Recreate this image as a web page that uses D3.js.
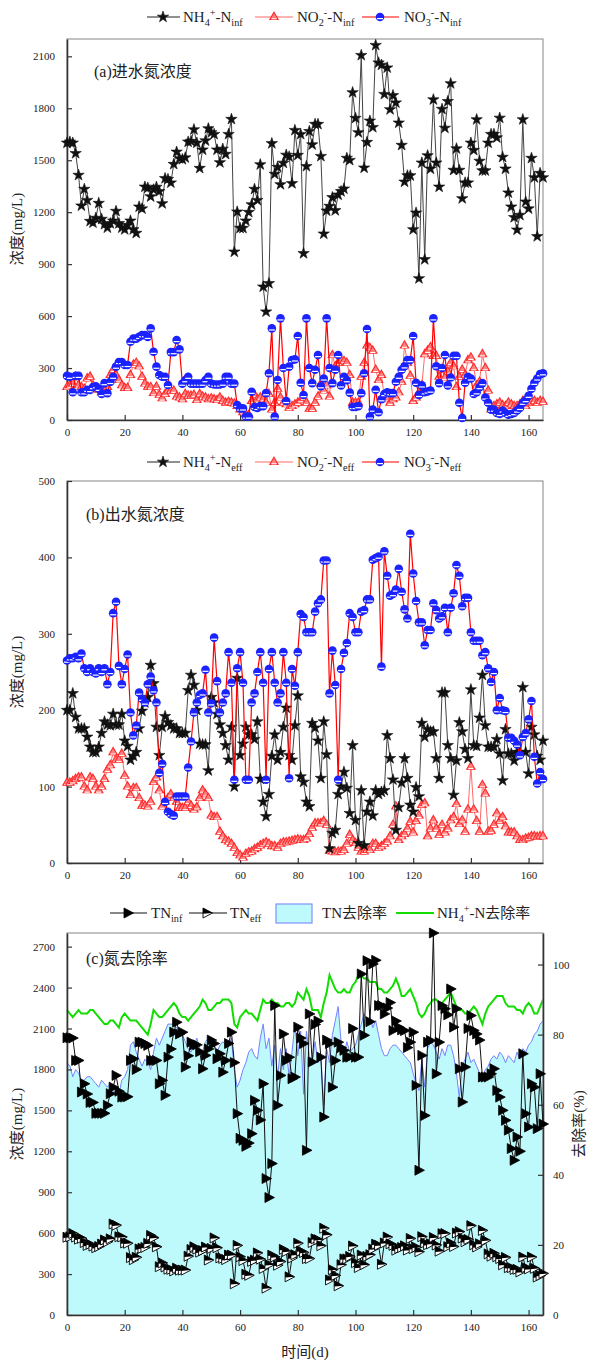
<!DOCTYPE html>
<html><head><meta charset="utf-8">
<script src="https://cdn.jsdelivr.net/npm/d3@7"></script>
<style>
body{margin:0;background:#fff}
svg{display:block}
text{font-family:"Liberation Serif","Times New Roman","Noto Sans CJK SC",serif;fill:#222}
</style></head><body>
<svg id="c" width="592" height="1362"></svg>
<script>
// ---------- data (day index 0..165) ----------
const xTicks = [0,20,40,60,80,100,120,140,160];
const yTicksA = [0,300,600,900,1200,1500,1800,2100];
const yTicksB = [0,100,200,300,400,500];
const yTicksC = [0,300,600,900,1200,1500,1800,2100,2400,2700];
const yTicksR = [0,20,40,60,80,100];

const nh4Inf = [1600,1606,1600,1540,1414,1237,1333,1269,1148,1139,
1166,1252,1160,1130,1110,1135,1150,1206,1135,1110,
1100,1125,1150,1100,1079,1231,1220,1346,1340,1290,
1330,1345,1320,1250,1395,1390,1370,1477,1548,1510,
1505,1515,1606,1610,1677,1600,1454,1560,1613,1683,
1660,1650,1560,1487,1565,1535,1650,1737,971,1202,
1108,1108,1150,1200,1244,1333,1269,1475,769,625,
789,1597,1420,1460,1360,1484,1530,1520,1366,1673,
1529,1650,962,1465,1667,1590,1708,1708,1523,1075,
1208,1235,1285,1210,1300,1320,1335,1512,1500,1891,
1743,1660,2106,1456,1604,1727,1690,2164,2063,2050,
1881,2034,1793,1874,1832,1716,1587,1375,1411,1411,
1100,1196,817,1485,927,1527,1450,1850,1485,1346,
1795,1686,1840,1943,1443,1567,1443,1279,1370,1370,
1600,1558,1735,1495,1440,1440,1600,1650,1650,1630,
1744,1518,1450,1312,1231,1170,1098,1183,1735,1260,
1220,1512,1400,1060,1425,1400];

const no2Inf = [190,200,210,250,200,190,180,240,250,200,
180,175,160,150,190,260,290,260,230,200,
185,185,260,320,330,310,250,210,192,190,
155,192,145,125,150,170,170,170,135,130,
120,150,140,140,145,115,150,135,130,120,
125,120,115,130,110,100,105,100,95,80,
60,45,35,30,110,145,120,130,120,100,
150,60,100,180,130,100,90,70,80,90,
100,115,130,100,65,65,100,135,210,170,
200,135,375,310,330,345,340,330,260,100,
100,100,250,330,430,415,400,290,230,260,
130,120,100,120,130,160,220,430,330,255,
110,130,160,200,380,400,420,370,370,250,
290,245,280,330,310,190,250,290,260,345,
360,300,200,220,380,300,170,60,80,90,
100,85,80,100,90,80,80,90,110,80,
100,105,110,100,110,105];

const no3Inf = [255,250,160,255,255,160,160,175,173,190,
195,180,150,213,155,220,250,308,335,335,
318,318,452,470,470,480,490,490,480,529,
394,308,260,250,250,202,392,392,462,408,
210,230,250,210,210,210,210,210,230,250,
210,205,205,205,210,250,250,210,210,87,
67,67,20,20,163,75,70,80,80,155,
270,529,20,231,587,300,110,308,346,350,
485,215,144,587,300,213,290,375,195,240,
587,300,213,290,375,200,250,230,158,75,
75,80,155,270,525,20,60,175,45,120,
150,160,155,155,221,250,290,310,346,346,
485,215,145,200,160,165,170,587,310,213,
300,375,200,245,370,370,100,12,215,250,
240,150,160,190,213,130,100,60,60,40,
35,55,40,30,35,40,55,70,100,115,
140,180,215,240,265,270];

const nh4Eff = [200,200,222,191,176,176,176,165,152,145,
145,152,170,185,181,180,195,181,181,195,
160,153,135,140,145,176,199,210,217,259,
235,178,141,178,192,184,180,176,176,170,
170,170,226,246,233,200,156,155,155,121,
217,210,195,181,170,154,135,178,100,242,
141,156,178,168,168,162,185,110,80,61,
90,140,168,135,145,178,203,141,135,180,
219,113,106,80,74,183,177,160,111,185,
142,19,39,43,90,100,119,98,65,154,
56,26,95,23,67,80,62,95,90,93,
95,167,137,109,43,73,105,137,111,76,
67,99,87,183,165,175,172,172,137,111,
223,223,154,137,89,134,184,172,149,137,
227,154,153,190,246,180,152,152,152,162,
143,108,175,143,143,134,145,145,230,145,
117,178,168,140,135,160];

const no2Eff = [105,105,107,110,112,112,100,95,112,110,
100,95,100,110,122,128,145,135,135,143,
114,100,89,98,98,85,75,75,74,80,
106,112,95,74,80,85,90,85,80,72,
72,72,80,75,70,73,85,95,90,85,
62,60,60,41,35,30,28,25,20,13,
10,7,12,14,15,18,20,23,25,27,
25,22,22,20,25,27,27,28,29,30,
31,30,30,32,38,46,52,52,52,55,
50,16,15,14,15,15,17,25,37,30,
26,20,15,15,17,17,25,25,20,22,
25,28,35,50,74,30,35,38,45,54,
40,55,62,76,78,35,45,56,45,37,
50,40,45,56,60,77,51,56,41,70,
126,70,55,41,102,91,41,42,50,65,
55,60,48,40,40,40,35,30,30,32,
33,35,35,34,35,35];

const no3Eff = [265,268,268,270,268,274,255,250,255,250,
248,255,250,255,234,250,327,342,258,234,
254,273,197,167,180,223,215,210,234,244,
226,210,118,130,80,67,64,62,87,87,
87,87,125,159,197,210,220,222,253,197,
209,295,238,197,210,222,276,236,109,255,
276,236,109,109,210,222,250,276,236,109,
254,276,236,210,222,276,236,111,254,232,
276,326,322,302,302,302,329,340,345,396,
396,222,278,233,109,254,275,288,327,322,
302,302,329,331,345,345,397,399,401,257,
408,376,350,352,358,385,355,332,320,431,
379,343,315,315,285,305,305,340,331,320,
323,334,302,334,353,390,376,336,347,347,
302,291,291,291,272,276,255,237,250,200,
216,200,199,164,164,160,155,141,165,170,
188,212,139,104,119,110];

const tnInf = [2032,2032,2030,1866,1866,1634,1695,1620,1558,1558,
1478,1478,1478,1478,1537,1622,1670,1756,1640,1597,
1597,1600,1866,1878,1800,2000,2000,1990,1976,1866,
1866,1866,1695,1720,1610,1890,1950,2073,2146,2060,
2073,1817,1900,2000,1980,1980,1930,1805,1903,1950,
2015,1990,1878,1915,1780,1866,1990,2073,1850,1476,
1295,1280,1236,1260,1329,1573,1500,1430,1695,1000,
861,1110,2268,1537,1756,2060,1866,1890,1732,1744,
2110,2030,1990,1207,2207,1855,2130,2155,1890,1451,
2015,1990,1670,1866,2000,1960,1940,1890,1890,2100,
1890,1890,2500,2050,2597,2150,2573,2600,2268,2268,
2207,2250,2290,2085,2155,2110,2090,2085,1960,2000,
2073,1683,1061,1903,1462,2000,2012,2800,1768,2000,
2268,2245,2200,2390,2110,2245,1805,1561,1817,2100,
2195,2085,2060,2015,1744,1744,1744,1768,1805,1646,
1597,1500,1427,1355,1220,1134,1305,1200,1915,1476,
1378,1695,1670,1366,1768,1400];

const tnEff = [570,573,597,571,556,562,531,510,519,505,
493,502,520,550,537,558,667,658,574,572,
528,526,421,405,423,484,489,495,525,583,
567,500,354,382,352,336,334,323,343,329,
329,329,431,480,500,483,461,472,498,403,
488,565,493,419,415,406,439,439,229,510,
427,399,299,291,393,402,455,409,341,197,
369,438,426,365,392,481,466,280,418,442,
526,469,458,414,414,531,558,552,508,636,
588,257,332,290,214,369,411,411,429,506,
384,348,439,369,429,442,484,519,511,372,
528,571,522,511,475,488,495,507,476,561,
486,497,464,574,528,515,522,568,513,468,
596,597,501,527,502,601,611,564,537,554,
655,515,499,522,620,547,448,431,452,427,
414,368,422,347,347,334,335,316,425,347,
338,425,342,278,289,305];

const tnRemoval = [72,71,68,70,69,67,67,68,68,67,
66,65,67,66,65,66,64,63,63,67,
68,70,77,78,75,73,71,73,72,70,
75,79,77,79,81,83,83,83,82,81,
80,78,76,75,77,79,76,75,78,79,
78,77,75,77,78,77,77,79,70,65,
67,70,72,75,76,74,73,79,83,76,
79,71,77,68,76,70,76,68,75,83,
74,81,63,81,74,72,78,72,74,60,
76,72,80,84,88,78,74,78,75,76,
77,80,83,86,84,85,82,84,80,76,
74,74,76,77,77,76,75,74,73,72,
69,66,64,73,65,76,78,77,75,73,
76,74,77,77,74,69,62,71,73,75,
72,73,71,69,68,70,71,73,74,73,
75,74,72,74,73,72,75,73,76,75,
77,78,80,81,83,84];

const nh4Removal = [87,86,85,86,87,86,86,86,87,87,
86,85,84,83,83,84,84,83,82,85,
86,85,84,84,84,83,82,81,80,83,
87,86,85,85,86,87,88,89,88,86,
85,85,84,85,86,87,88,90,89,87,
87,88,89,89,90,90,90,89,83,82,
85,86,87,86,86,85,84,87,90,89,
89,90,89,89,88,88,89,89,88,89,
92,91,90,93,91,87,87,87,85,89,
92,97,95,93,92,92,93,92,92,94,
95,97,97,96,96,95,95,95,93,93,
92,92,93,94,96,94,91,91,92,93,
91,89,86,85,86,88,89,90,90,89,
89,90,91,92,90,88,87,87,86,86,
87,88,87,85,83,86,88,89,90,91,
91,91,89,88,88,88,87,87,86,88,
89,88,86,86,88,90];

// ---------- drawing ----------
const svg = d3.select("#c");
const L = 67, R = 543;
const x = d3.scaleLinear().domain([0,165]).range([L,R]);

function styleAxis(g){
  g.selectAll(".domain").attr("stroke","#333").attr("stroke-width",1.6);
  g.selectAll(".tick line").attr("stroke","#333").attr("stroke-width",1.2);
  g.selectAll(".tick text").attr("font-family","Liberation Serif, serif").attr("font-size",11).attr("fill","#333");
}

function frame(y, ticks, top, bottom){
  svg.append("rect").attr("x",L).attr("y",top).attr("width",R-L).attr("height",bottom-top)
    .attr("fill","none").attr("stroke","#999").attr("stroke-width",1.2);
  const gl = svg.append("g").attr("transform",`translate(${L},0)`)
    .call(d3.axisLeft(y).tickValues(ticks).tickSizeInner(-5).tickSizeOuter(0).tickPadding(12).tickFormat(d3.format("d")));
  styleAxis(gl);
  const gb = svg.append("g").attr("transform",`translate(0,${bottom})`)
    .call(d3.axisBottom(x).tickValues(xTicks).tickSizeInner(-5).tickSizeOuter(0).tickPadding(8));
  styleAxis(gb);
}

function line(y, data, color, w){
  svg.append("path").datum(data)
    .attr("fill","none").attr("stroke",color).attr("stroke-width",w)
    .attr("d", d3.line().x((d,i)=>x(i)).y(d=>y(d)));
}

const starPath = d3.symbol(d3.symbolStar, 40)();
const triPath = d3.symbol(d3.symbolTriangle, 30)();
function star(g,cx,cy){
  g.append("path").attr("d",starPath).attr("transform",`translate(${cx},${cy})`)
    .attr("fill","#111").attr("stroke","#111").attr("stroke-width",0.6);
}
function tri(g,cx,cy){
  g.append("path").attr("d",triPath).attr("transform",`translate(${cx},${cy})`)
    .attr("fill","#ff8080").attr("stroke","#ff2a2a").attr("stroke-width",1.1);
  g.append("line").attr("x1",cx-2.6).attr("x2",cx+2.6).attr("y1",cy+1.8).attr("y2",cy+1.8)
    .attr("stroke","#fff").attr("stroke-width",1.1);
}
function blueDot(g,cx,cy){
  g.append("circle").attr("cx",cx).attr("cy",cy).attr("r",4.3).attr("fill","#1a22ff");
  g.append("line").attr("x1",cx-3).attr("x2",cx+3).attr("y1",cy+1.6).attr("y2",cy+1.6)
    .attr("stroke","#fff").attr("stroke-width",1.2);
}
function rtriFull(g,cx,cy){
  g.append("path").attr("d","M-4,-5L5.5,0L-4,5Z").attr("transform",`translate(${cx},${cy})`)
    .attr("fill","#000").attr("stroke","#000").attr("stroke-width",0.8);
}
function rtriHalf(g,cx,cy){
  const t = g.append("g").attr("transform",`translate(${cx},${cy})`);
  t.append("path").attr("d","M-4,-5L5.5,0L-4,5Z").attr("fill","#fff").attr("stroke","#000").attr("stroke-width",0.9);
  t.append("path").attr("d","M-4,-5L5.5,0L-4,0.8Z").attr("fill","#000");
}
function markers(y, data, fn){
  const g = svg.append("g");
  data.forEach((d,i)=>fn(g, x(i), y(d)));
}

// rich legend text: parts [text, mode] mode: 0 normal, 1 sub, 2 sup
function rich(xp, yp, parts, size){
  const t = svg.append("text").attr("x",xp).attr("y",yp).attr("font-size",size).attr("fill","#222");
  let cur = 0;
  parts.forEach(([s,m])=>{
    const target = m===1 ? 4 : (m===2 ? -6 : 0);
    t.append("tspan").attr("dy", target-cur).attr("font-size", m? size*0.68 : size).text(s);
    cur = target;
  });
  return t;
}

function yLabel(text, xp, yc, rot){
  svg.append("text").attr("transform",`translate(${xp},${yc}) rotate(${rot})`)
    .attr("text-anchor","middle").attr("font-size",15).attr("fill","#222").text(text);
}

// ======== Panel (a) ========
const yA = d3.scaleLinear().domain([0,2200]).range([420,39]);
frame(yA, yTicksA, 39, 420);
line(yA, no2Inf, "#ff6a6a", 1);
markers(yA, no2Inf, tri);
line(yA, no3Inf, "#ff0000", 1.2);
markers(yA, no3Inf, blueDot);
line(yA, nh4Inf, "#444", 1);
markers(yA, nh4Inf, star);
svg.append("text").attr("x",94).attr("y",77).attr("font-size",16).text("(a)进水氮浓度");
yLabel("浓度(mg/L)", 22, 229, -90);

// legend
function legendRow(yl, sfx){
  svg.append("line").attr("x1",147).attr("x2",180).attr("y1",yl).attr("y2",yl).attr("stroke","#222").attr("stroke-width",1.2);
  star(svg, 163, yl);
  rich(183, yl+5, [["NH",0],["4",1],["+",2],["-N",0],[sfx,1]], 15);
  svg.append("line").attr("x1",255).attr("x2",293).attr("y1",yl).attr("y2",yl).attr("stroke","#ff6a6a").attr("stroke-width",1.2);
  tri(svg, 274, yl);
  rich(297, yl+5, [["NO",0],["2",1],["-",2],["-N",0],[sfx,1]], 15);
  svg.append("line").attr("x1",362).attr("x2",399).attr("y1",yl).attr("y2",yl).attr("stroke","#ff0000").attr("stroke-width",1.2);
  blueDot(svg, 380, yl);
  rich(404, yl+5, [["NO",0],["3",1],["-",2],["-N",0],[sfx,1]], 15);
}
legendRow(17, "inf");

// ======== Panel (b) ========
const yB = d3.scaleLinear().domain([0,500]).range([863,481]);
frame(yB, yTicksB, 481, 863);
line(yB, no2Eff, "#ff6a6a", 1);
markers(yB, no2Eff, tri);
line(yB, nh4Eff, "#444", 1);
markers(yB, nh4Eff, star);
line(yB, no3Eff, "#ff0000", 1.2);
markers(yB, no3Eff, blueDot);
svg.append("text").attr("x",86).attr("y",520).attr("font-size",16).text("(b)出水氮浓度");
yLabel("浓度(mg/L)", 22, 672, -90);
legendRow(462, "eff");

// ======== Panel (c) ========
const yC = d3.scaleLinear().domain([0,2800]).range([1315,933]);
const yR = d3.scaleLinear().domain([0,109]).range([1315,933]);
svg.append("path").datum(tnRemoval)
  .attr("fill","#bef9fb")
  .attr("d", d3.area().x((d,i)=>x(i)).y0(yR(0)).y1(d=>yR(d)));
line(yR, tnRemoval, "#7383ff", 1);
line(yR, nh4Removal, "#11dd00", 2);
frame(yC, yTicksC, 933, 1315);
const gr = svg.append("g").attr("transform",`translate(${R},0)`)
  .call(d3.axisRight(yR).tickValues(yTicksR).tickSizeInner(-5).tickSizeOuter(0).tickPadding(10));
styleAxis(gr);
line(yC, tnEff, "#111", 1);
markers(yC, tnEff, rtriHalf);
line(yC, tnInf, "#111", 1);
markers(yC, tnInf, rtriFull);
svg.append("text").attr("x",86).attr("y",964).attr("font-size",16).text("(c)氮去除率");
yLabel("浓度(mg/L)", 22, 1124, -90);
yLabel("去除率(%)", 584, 1124, -90);
svg.append("text").attr("x",305).attr("y",1357).attr("text-anchor","middle").attr("font-size",15).text("时间(d)");

// legend c
const yl = 913;
svg.append("line").attr("x1",110).attr("x2",147).attr("y1",yl).attr("y2",yl).attr("stroke","#111").attr("stroke-width",1.2);
rtriFull(svg, 128, yl);
rich(151, yl+5, [["TN",0],["inf",1]], 15);
svg.append("line").attr("x1",189).attr("x2",227).attr("y1",yl).attr("y2",yl).attr("stroke","#111").attr("stroke-width",1.2);
rtriHalf(svg, 207, yl);
rich(230, yl+5, [["TN",0],["eff",1]], 15);
svg.append("rect").attr("x",276).attr("y",904).attr("width",36).attr("height",19).attr("fill","#bef9fb").attr("stroke","#8090ff").attr("stroke-width",1.2);
svg.append("text").attr("x",322).attr("y",yl+5).attr("font-size",15).text("TN去除率");
svg.append("line").attr("x1",396).attr("x2",434).attr("y1",yl).attr("y2",yl).attr("stroke","#11dd00").attr("stroke-width",2);
rich(437, yl+5, [["NH",0],["4",1],["+",2],["-N去除率",0]], 15);
</script>
</body></html>
